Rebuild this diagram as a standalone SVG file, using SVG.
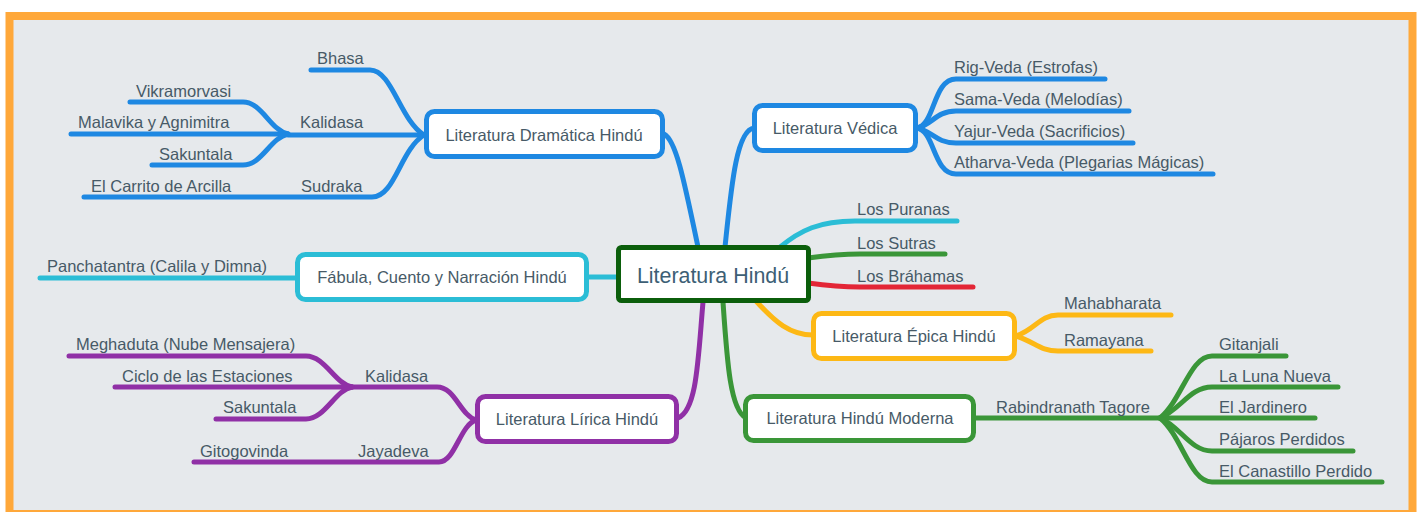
<svg xmlns="http://www.w3.org/2000/svg" width="1418" height="512" viewBox="0 0 1418 512">
<style>
  .c{fill:none;stroke-width:5;stroke-linecap:round;stroke-linejoin:round}
  .blue{stroke:#1e88e2}
  .cyan{stroke:#2bbdd6}
  .purple{stroke:#9030a6}
  .green{stroke:#3a9638}
  .yellow{stroke:#fdb815}
  .red{stroke:#e32636}
  .box{fill:#ffffff;stroke-width:5}
  text{font-family:"Liberation Sans",Arial,sans-serif;font-size:16.5px;fill:#475a67}
  .m{text-anchor:middle}
</style>
<rect x="0" y="0" width="1418" height="512" fill="#ffffff"/>
<rect x="9.5" y="16" width="1403" height="498" fill="#e6e9ec" stroke="#ffa83a" stroke-width="8"/>

<g id="connectors">
  <!-- center to branches -->
  <path class="c blue" d="M698,247 C684,180 676,140 664,134"/>
  <path class="c blue" d="M725,247 C731,190 736,130 754,128"/>
  <path class="c cyan" d="M588,277 H618"/>
  <path class="c purple" d="M703,302 C698,360 697,410 678,418"/>
  <path class="c green" d="M723,302 C727,360 730,410 746,418"/>
  <path class="c yellow" d="M756,301 C775,322 790,335 813,335"/>
  <path class="c cyan" d="M779,248 C800,230 820,221 855,221 H957"/>
  <path class="c green" d="M808,258 C830,255 840,254 860,254 H945"/>
  <path class="c red" d="M808,283 C830,286 840,287 860,287 H973"/>

  <!-- Dramática -->
  <path class="c blue" d="M311,70 H370 C392,70 400,120 424,135"/>
  <path class="c blue" d="M424,135 H288"/>
  <path class="c blue" d="M84,197 H372 C395,197 400,150 424,135"/>
  <path class="c blue" d="M130,102 H243 C262,102 270,130 288,134"/>
  <path class="c blue" d="M71,134 H288"/>
  <path class="c blue" d="M152,165 H243 C262,165 270,138 288,134"/>

  <!-- Fábula -->
  <path class="c cyan" d="M40,278 H296"/>

  <!-- Lírica -->
  <path class="c purple" d="M476,420 C460,415 455,387 437,387 H352"/>
  <path class="c purple" d="M69,356 H306 C325,356 335,384 352,387"/>
  <path class="c purple" d="M115,387 H352"/>
  <path class="c purple" d="M216,419 H306 C325,419 335,390 352,387"/>
  <path class="c purple" d="M194,462 H439 C455,462 460,425 476,420"/>

  <!-- Védica -->
  <path class="c blue" d="M917,128 C935,125 933,79 956,79 H1105"/>
  <path class="c blue" d="M917,128 C932,125 936,111 956,111 H1129"/>
  <path class="c blue" d="M917,128 C932,131 936,143 956,143 H1133"/>
  <path class="c blue" d="M917,128 C935,131 933,174 956,174 H1213"/>

  <!-- Épica -->
  <path class="c yellow" d="M1016,336 C1035,330 1040,315 1058,315 H1171"/>
  <path class="c yellow" d="M1016,336 C1035,342 1040,351 1058,351 H1151"/>

  <!-- Moderna -->
  <path class="c green" d="M975,418 H1160"/>
  <path class="c green" d="M1160,418 C1182,400 1190,356 1212,356 H1286"/>
  <path class="c green" d="M1160,418 C1180,410 1190,387 1212,387 H1338"/>
  <path class="c green" d="M1160,418 H1315"/>
  <path class="c green" d="M1160,418 C1180,426 1190,451 1212,451 H1353"/>
  <path class="c green" d="M1160,418 C1182,436 1190,482 1212,482 H1382"/>
</g>

<g id="node-center">
  <rect x="618.5" y="247.5" width="190" height="53" rx="3" fill="#ffffff" stroke="#0b5e0b" stroke-width="5"/>
  <text x="713" y="283" class="m" style="font-size:21.4px;fill:#3d5f75">Literatura Hindú</text>
</g>
<g id="node-dramatica">
  <rect class="box" x="426.5" y="111.5" width="236" height="45" rx="8" stroke="#1e88e2"/>
  <text x="544" y="141" class="m">Literatura Dramática Hindú</text>
</g>
<g id="node-vedica">
  <rect class="box" x="754.5" y="105.5" width="161" height="45" rx="8" stroke="#1e88e2"/>
  <text x="835" y="134" class="m">Literatura Védica</text>
</g>
<g id="node-fabula">
  <rect class="box" x="297.5" y="254.5" width="289" height="45" rx="8" stroke="#2bbdd6"/>
  <text x="442" y="283" class="m">Fábula, Cuento y Narración Hindú</text>
</g>
<g id="node-lirica">
  <rect class="box" x="477.5" y="396.5" width="199" height="45" rx="8" stroke="#9030a6"/>
  <text x="577" y="425" class="m">Literatura Lírica Hindú</text>
</g>
<g id="node-moderna">
  <rect class="box" x="745.5" y="396.5" width="228" height="44" rx="8" stroke="#3a9638"/>
  <text x="860" y="424" class="m">Literatura Hindú Moderna</text>
</g>
<g id="node-epica">
  <rect class="box" x="813.5" y="313.5" width="201" height="45" rx="8" stroke="#fdb815"/>
  <text x="914" y="342" class="m">Literatura Épica Hindú</text>
</g>

<g id="labels-dramatica">
  <text x="317" y="64">Bhasa</text>
  <text x="136" y="97">Vikramorvasi</text>
  <text x="300" y="128">Kalidasa</text>
  <text x="78" y="128">Malavika y Agnimitra</text>
  <text x="159" y="160">Sakuntala</text>
  <text x="91" y="192">El Carrito de Arcilla</text>
  <text x="301" y="192">Sudraka</text>
</g>
<g id="labels-vedica">
  <text x="954" y="73">Rig-Veda (Estrofas)</text>
  <text x="954" y="105">Sama-Veda (Melodías)</text>
  <text x="954" y="137">Yajur-Veda (Sacrificios)</text>
  <text x="954" y="168">Atharva-Veda (Plegarias Mágicas)</text>
</g>
<g id="labels-center">
  <text x="857" y="215">Los Puranas</text>
  <text x="857" y="249">Los Sutras</text>
  <text x="857" y="282">Los Bráhamas</text>
</g>
<g id="labels-epica">
  <text x="1064" y="309">Mahabharata</text>
  <text x="1064" y="346">Ramayana</text>
</g>
<g id="labels-moderna">
  <text x="996" y="413">Rabindranath Tagore</text>
  <text x="1219" y="350">Gitanjali</text>
  <text x="1219" y="382">La Luna Nueva</text>
  <text x="1219" y="413">El Jardinero</text>
  <text x="1219" y="445">Pájaros Perdidos</text>
  <text x="1219" y="477">El Canastillo Perdido</text>
</g>
<g id="labels-fabula">
  <text x="47" y="272">Panchatantra (Calila y Dimna)</text>
</g>
<g id="labels-lirica">
  <text x="76" y="350">Meghaduta (Nube Mensajera)</text>
  <text x="122" y="382">Ciclo de las Estaciones</text>
  <text x="223" y="413">Sakuntala</text>
  <text x="365" y="382">Kalidasa</text>
  <text x="200" y="457">Gitogovinda</text>
  <text x="358" y="457">Jayadeva</text>
</g>
</svg>
